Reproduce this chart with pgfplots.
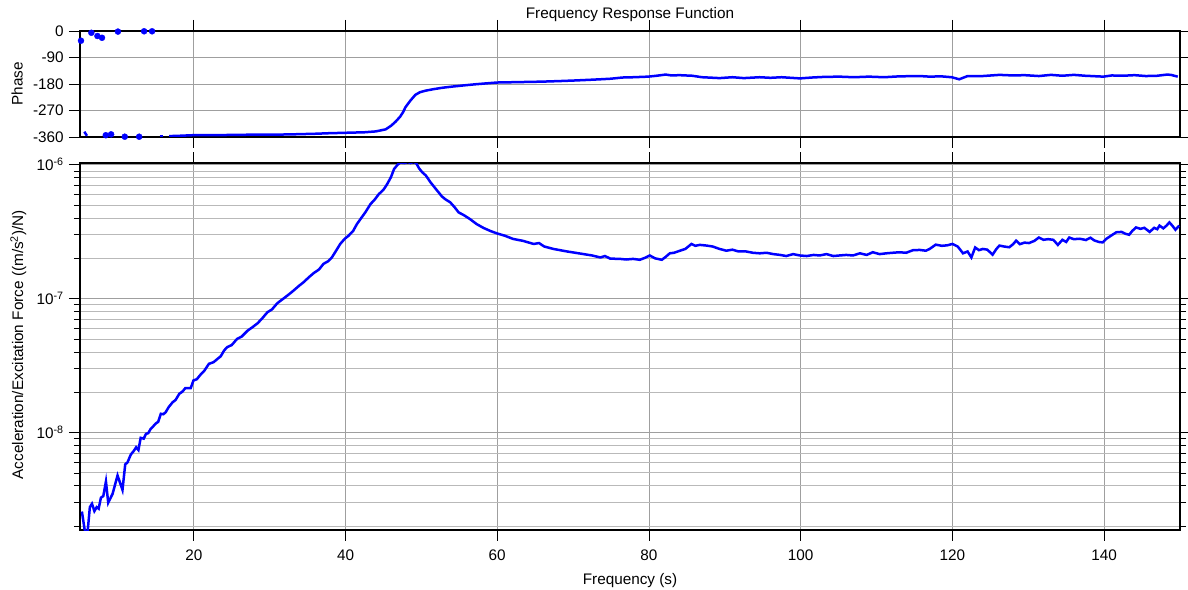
\documentclass[border=0pt]{standalone}
\usepackage{fontspec}
\setmainfont{Liberation Sans}
\usepackage{pgfplots}
\pgfplotsset{compat=1.18}
\begin{document}
\fontsize{15.3bp}{18bp}\selectfont
\begin{tikzpicture}
\useasboundingbox (-80bp,-60bp) rectangle (1108bp,530bp);
\pgfplotsset{
  common/.style={
    scale only axis, width=1100bp,
    xmin=5, xmax=150,
    xtick={20,40,...,140},
    tick align=outside,
    major tick length=11bp, minor tick length=6bp,
    every tick/.style={black, line width=0.6bp},
    axis line style={black, line width=1.3bp},
    grid=major,
    major grid style={gray!75, line width=0.7bp},
    minor grid style={gray!55, line width=0.7bp},
    /pgf/number format/assume math mode=true,
    tick label style={font=\fontsize{15.3bp}{18bp}\selectfont},
    label style={font=\fontsize{15.3bp}{18bp}\selectfont},
    every axis title shift=0pt,
  }
}
% ---------------- magnitude ----------------
\begin{axis}[common, at={(0,0)}, anchor=south west, height=367bp,
  ymode=log, ymin=1.87e-9, ymax=1.03e-6,
  ytick={1e-8,1e-7,1e-6},
  yticklabels={10\textsuperscript{-8},10\textsuperscript{-7},10\textsuperscript{-6}},
  minor ytick={2e-9,3e-9,4e-9,5e-9,6e-9,7e-9,8e-9,9e-9,2e-8,3e-8,4e-8,5e-8,6e-8,7e-8,8e-8,9e-8,2e-7,3e-7,4e-7,5e-7,6e-7,7e-7,8e-7,9e-7},
  yminorgrids=true,
  xticklabel style={yshift=-4bp},
  xlabel={Frequency (s)},
  xlabel style={yshift=-2bp},
  ylabel={Acceleration/Excitation Force ((m/s\textsuperscript{2})/N)},
  ylabel style={at={(ticklabel cs:0.505)}},
]
\addplot[blue, line width=2.5bp] coordinates {
(5.25,2.57e-9)(5.6,1.9e-9)(5.75,1.8e-9)(6.0,1.8e-9)(6.3,2.77e-9)(6.58,2.94e-9)
(6.9,2.59e-9)(7.2,2.77e-9)(7.46,2.70e-9)(7.76,3.26e-9)(8.07,3.35e-9)(8.42,4.31e-9)
(8.72,2.99e-9)(9.3,3.49e-9)(9.95,4.78e-9)(10.6,3.73e-9)(10.96,5.77e-9)(11.27,6.0e-9)
(11.7,6.85e-9)(12.1,7.3e-9)(12.4,7.76e-9)(12.7,7.4e-9)(13.0,9.12e-9)(13.4,9.0e-9)
(13.7,9.77e-9)(14.0,9.9e-9)(14.3,1.06e-8)(14.7,1.12e-8)(15.0,1.17e-8)(15.3,1.2e-8)
(15.66,1.38e-8)(16.0,1.37e-8)(16.3,1.42e-8)(16.7,1.55e-8)(17.2,1.68e-8)(17.6,1.75e-8)
(18.1,1.95e-8)(18.5,2.02e-8)(18.9,2.15e-8)(19.6,2.15e-8)(19.96,2.45e-8)(20.4,2.5e-8)
(20.9,2.71e-8)(21.4,2.9e-8)(22.0,3.26e-8)(22.6,3.35e-8)(23.0,3.5e-8)(23.55,3.71e-8)
(24.0,4.1e-8)(24.4,4.34e-8)(25.0,4.5e-8)(25.7,5.0e-8)(26.3,5.2e-8)(27.1,5.77e-8)
(27.7,6.1e-8)(28.4,6.54e-8)(29.0,7.1e-8)(29.7,7.91e-8)(30.3,8.3e-8)(31.0,9.23e-8)
(31.6,9.8e-8)(32.3,1.05e-7)(33.0,1.13e-7)(33.9,1.25e-7)(34.5,1.33e-7)(35.2,1.45e-7)
(35.8,1.55e-7)(36.5,1.65e-7)(37.1,1.82e-7)(37.7,1.9e-7)(38.2,2.03e-7)(38.8,2.3e-7)
(39.3,2.56e-7)(39.9,2.8e-7)(40.4,2.95e-7)(41.0,3.2e-7)(41.5,3.6e-7)(42.0,3.95e-7)
(42.6,4.4e-7)(43.3,5.09e-7)(43.8,5.45e-7)(44.4,6.04e-7)(45.0,6.5e-7)(45.5,7.18e-7)
(46.0,8.1e-7)(46.4,9.29e-7)(46.8,9.9e-7)(47.2,1.04e-6)(47.8,1.03e-6)(48.2,1.05e-6)
(48.55,1.03e-6)(49.0,1.05e-6)(49.3,1.03e-6)(49.7,9.4e-7)(50.1,8.8e-7)(50.6,8.3e-7)
(51.2,7.4e-7)(51.9,6.6e-7)(52.7,5.8e-7)(53.2,5.5e-7)(53.8,5.24e-7)(54.4,4.8e-7)
(54.9,4.41e-7)(55.6,4.2e-7)(56.4,3.93e-7)(57.3,3.6e-7)(58.2,3.37e-7)(59.1,3.2e-7)
(59.96,3.07e-7)(61.0,2.95e-7)(62.1,2.79e-7)(63.4,2.7e-7)(64.8,2.56e-7)(65.5,2.6e-7)
(66.2,2.45e-7)(67.4,2.35e-7)(68.3,2.3e-7)(69.2,2.25e-7)(70.3,2.2e-7)(71.4,2.15e-7)
(72.5,2.1e-7)(73.6,2.03e-7)(74.2,2.08e-7)(74.9,1.99e-7)(76.2,1.98e-7)(77.0,1.96e-7)
(77.9,1.98e-7)(78.8,1.95e-7)(79.5,2.02e-7)(80.1,2.10e-7)(80.8,2.0e-7)(81.7,1.95e-7)
(82.2,2.05e-7)(82.75,2.18e-7)(83.3,2.2e-7)(84.1,2.28e-7)(84.8,2.35e-7)(85.6,2.56e-7)
(86.1,2.48e-7)(86.7,2.52e-7)(87.6,2.49e-7)(88.4,2.45e-7)(89.3,2.35e-7)(90.2,2.28e-7)
(91.0,2.32e-7)(91.8,2.25e-7)(92.8,2.25e-7)(93.7,2.2e-7)(94.6,2.18e-7)(95.5,2.2e-7)
(96.4,2.15e-7)(97.3,2.12e-7)(98.1,2.08e-7)(99.0,2.15e-7)(99.9,2.10e-7)(100.8,2.08e-7)
(101.7,2.12e-7)(102.5,2.1e-7)(103.4,2.15e-7)(104.3,2.08e-7)(105.1,2.1e-7)(106.0,2.12e-7)
(106.9,2.1e-7)(107.8,2.18e-7)(108.7,2.12e-7)(109.5,2.22e-7)(110.4,2.15e-7)(111.3,2.18e-7)
(112.1,2.2e-7)(113.0,2.22e-7)(113.9,2.2e-7)(114.8,2.3e-7)(115.7,2.31e-7)(116.5,2.28e-7)
(117.0,2.35e-7)(117.8,2.53e-7)(118.6,2.48e-7)(119.3,2.5e-7)(120.0,2.56e-7)(120.7,2.45e-7)
(121.4,2.18e-7)(122.0,2.25e-7)(122.5,2.03e-7)(123.0,2.41e-7)(123.5,2.3e-7)(124.0,2.35e-7)
(124.6,2.32e-7)(125.3,2.13e-7)(125.8,2.35e-7)(126.2,2.49e-7)(126.8,2.45e-7)(127.5,2.42e-7)
(128.0,2.55e-7)(128.4,2.71e-7)(128.9,2.55e-7)(129.5,2.62e-7)(130.1,2.6e-7)(130.8,2.7e-7)
(131.4,2.86e-7)(132.0,2.75e-7)(132.6,2.78e-7)(133.3,2.75e-7)(133.9,2.52e-7)(134.5,2.75e-7)
(135.0,2.65e-7)(135.4,2.86e-7)(136.0,2.78e-7)(136.8,2.8e-7)(137.6,2.74e-7)(138.2,2.85e-7)
(138.7,2.72e-7)(139.3,2.65e-7)(139.8,2.63e-7)(140.3,2.8e-7)(140.7,2.9e-7)(141.6,3.13e-7)
(142.3,3.15e-7)(142.8,3.05e-7)(143.3,3.0e-7)(143.7,3.2e-7)(144.2,3.40e-7)(144.8,3.32e-7)
(145.3,3.38e-7)(146.0,3.15e-7)(146.6,3.38e-7)(147.0,3.3e-7)(147.3,3.51e-7)(147.8,3.35e-7)
(148.2,3.5e-7)(148.6,3.71e-7)(149.0,3.5e-7)(149.4,3.27e-7)(149.9,3.51e-7)
};
\end{axis}
% ---------------- phase ----------------
\begin{axis}[common, at={(0,393bp)}, anchor=south west, height=106bp,
  ymin=-360, ymax=0, ytick={-360,-270,-180,-90,0},
  xticklabels={},
  ylabel={Phase},
  title={Frequency Response Function},
  title style={at={(0.5,1)}, anchor=base, yshift=12bp, font=\fontsize{15.3bp}{18bp}\selectfont},
]
\addplot[blue, line width=2.5bp] coordinates {
(16.75,-357)(18,-356)(19.8,-354)(22,-354)(25,-353)(28,-352)(30.8,-352)(33,-351)
(36,-349)(38,-347)(39.6,-346)(41,-345)(42.5,-344)(44,-341)(45.3,-334)(46.0,-322)
(46.6,-308)(47.2,-291)(47.6,-275)(47.9,-259)(48.5,-238)(49.2,-217)(49.8,-208)(50.5,-203)
(51.5,-198)(52.7,-193)(54,-189)(55.5,-185)(57.1,-181)(58.5,-178)(59.96,-175)(62,-174)
(64,-173)(65.9,-172)(68.3,-170)(70.3,-168)(72,-166)(73.6,-164)(75,-162)(76.5,-158)
(78,-157)(79.9,-155)(81,-152)(82.2,-148)(83,-151)(84,-150)(85.7,-152)(87,-157)
(89.3,-160)(91,-157)(92.5,-160)(94.6,-157)(96,-159)(97.5,-157)(99.9,-161)(101.5,-158)
(103,-156)(105.1,-155)(107,-157)(109,-155)(111,-157)(113,-154)(115.7,-153)(117,-155)
(118.5,-154)(119.9,-157)(120.9,-164)(122,-153)(124,-153)(126.2,-149)(128,-151)(129.5,-150)
(131.4,-153)(133,-149)(134.5,-152)(136,-149)(137.5,-152)(139.9,-155)(141,-151)(142.5,-152)
(144,-150)(145.5,-153)(147,-152)(148.3,-148)(148.8,-149)(149.7,-155)
};
\addplot[blue, line width=2.5bp] coordinates {(5.57,-342)(5.92,-356)};
\addplot[blue, line width=2.5bp] coordinates {(15.5,-358)(15.9,-358)};
\addplot[blue, only marks, mark=*, mark size=3bp] coordinates {
(5.13,-33)(6.5,-6)(7.3,-17)(7.9,-23)(10.0,-2)(11.7,2)(13.45,-1)(14.5,-1)
(8.4,-354)(9.1,-351)(10.9,-359)(12.8,-359)
};
\end{axis}
\end{tikzpicture}
\end{document}
